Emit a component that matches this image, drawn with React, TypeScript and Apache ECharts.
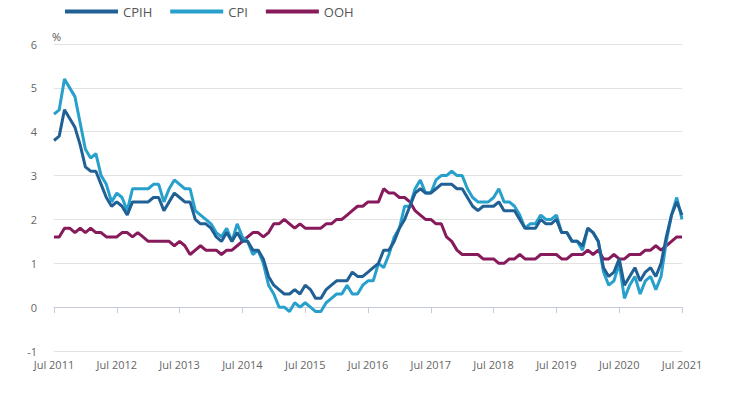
import React, { useEffect, useRef } from "react";
import * as echarts from "echarts";

const months = ["Jan", "Feb", "Mar", "Apr", "May", "Jun", "Jul", "Aug", "Sep", "Oct", "Nov", "Dec"];
const categories: string[] = [];
for (let y = 2011; y <= 2021; y++) {
  for (let m = 0; m < 12; m++) {
    if (y === 2011 && m < 6) continue;
    if (y === 2021 && m > 6) continue;
    categories.push(`${months[m]} ${y}`);
  }
}

const cpih = [
  3.8, 3.9, 4.5, 4.3, 4.1, 3.7,
  3.2, 3.1, 3.1, 2.8, 2.5, 2.3, 2.4, 2.3, 2.1, 2.4, 2.4, 2.4,
  2.4, 2.5, 2.5, 2.2, 2.4, 2.6, 2.5, 2.4, 2.4, 2.0, 1.9, 1.9,
  1.8, 1.6, 1.5, 1.7, 1.5, 1.7, 1.5, 1.5, 1.3, 1.3, 1.1, 0.7,
  0.5, 0.4, 0.3, 0.3, 0.4, 0.3, 0.5, 0.4, 0.2, 0.2, 0.4, 0.5,
  0.6, 0.6, 0.6, 0.8, 0.7, 0.7, 0.8, 0.9, 1.0, 1.3, 1.3, 1.5,
  1.8, 2.0, 2.3, 2.6, 2.7, 2.6, 2.6, 2.7, 2.8, 2.8, 2.8, 2.7,
  2.7, 2.5, 2.3, 2.2, 2.3, 2.3, 2.3, 2.4, 2.2, 2.2, 2.2, 2.0,
  1.8, 1.8, 1.8, 2.0, 1.9, 1.9, 2.0, 1.7, 1.7, 1.5, 1.5, 1.4,
  1.8, 1.7, 1.5, 0.9, 0.7, 0.8, 1.1, 0.5, 0.7, 0.9, 0.6, 0.8,
  0.9, 0.7, 1.0, 1.6, 2.1, 2.4, 2.1,
];

const cpi = [
  4.4, 4.5, 5.2, 5.0, 4.8, 4.2,
  3.6, 3.4, 3.5, 3.0, 2.8, 2.4, 2.6, 2.5, 2.2, 2.7, 2.7, 2.7,
  2.7, 2.8, 2.8, 2.4, 2.7, 2.9, 2.8, 2.7, 2.7, 2.2, 2.1, 2.0,
  1.9, 1.7, 1.6, 1.8, 1.5, 1.9, 1.6, 1.5, 1.2, 1.3, 1.0, 0.5,
  0.3, 0.0, 0.0, -0.1, 0.1, 0.0, 0.1, 0.0, -0.1, -0.1, 0.1, 0.2,
  0.3, 0.3, 0.5, 0.3, 0.3, 0.5, 0.6, 0.6, 1.0, 0.9, 1.2, 1.6,
  1.8, 2.3, 2.3, 2.7, 2.9, 2.6, 2.6, 2.9, 3.0, 3.0, 3.1, 3.0,
  3.0, 2.7, 2.5, 2.4, 2.4, 2.4, 2.5, 2.7, 2.4, 2.4, 2.3, 2.1,
  1.8, 1.9, 1.9, 2.1, 2.0, 2.0, 2.1, 1.7, 1.7, 1.5, 1.5, 1.3,
  1.8, 1.7, 1.5, 0.8, 0.5, 0.6, 1.0, 0.2, 0.5, 0.7, 0.3, 0.6,
  0.7, 0.4, 0.7, 1.5, 2.1, 2.5, 2.0,
];

const ooh = [
  1.6, 1.6, 1.8, 1.8, 1.7, 1.8,
  1.7, 1.8, 1.7, 1.7, 1.6, 1.6, 1.6, 1.7, 1.7, 1.6, 1.7, 1.6,
  1.5, 1.5, 1.5, 1.5, 1.5, 1.4, 1.5, 1.4, 1.2, 1.3, 1.4, 1.3,
  1.3, 1.3, 1.2, 1.3, 1.3, 1.4, 1.5, 1.6, 1.7, 1.7, 1.6, 1.7,
  1.9, 1.9, 2.0, 1.9, 1.8, 1.9, 1.8, 1.8, 1.8, 1.8, 1.9, 1.9,
  2.0, 2.0, 2.1, 2.2, 2.3, 2.3, 2.4, 2.4, 2.4, 2.7, 2.6, 2.6,
  2.5, 2.5, 2.4, 2.2, 2.1, 2.0, 2.0, 1.9, 1.9, 1.6, 1.5, 1.3,
  1.2, 1.2, 1.2, 1.2, 1.1, 1.1, 1.1, 1.0, 1.0, 1.1, 1.1, 1.2,
  1.1, 1.1, 1.1, 1.2, 1.2, 1.2, 1.2, 1.1, 1.1, 1.2, 1.2, 1.2,
  1.3, 1.2, 1.3, 1.1, 1.1, 1.2, 1.1, 1.1, 1.2, 1.2, 1.2, 1.3,
  1.3, 1.4, 1.3, 1.4, 1.5, 1.6, 1.6,
];

const seriesNames = ["CPIH", "CPI", "OOH"];
const seriesColors = ["#206095", "#27a0cc", "#871a5b"];

export default function App() {
  const ref = useRef<HTMLDivElement>(null);
  useEffect(() => {
    if (!ref.current) return;
    const chart = echarts.init(ref.current, undefined, { renderer: "svg" });
    const font = "'Open Sans', sans-serif";
    const data = [cpih, cpi, ooh];
    chart.setOption({
      animation: false,
      textStyle: { fontFamily: font },
      legend: {
        left: 60,
        top: 0,
        itemWidth: 53,
        itemHeight: 4,
        itemGap: 18,
        icon: "rect",
        textStyle: { fontFamily: font, fontSize: 13, color: "#555" },
        data: seriesNames,
      },
      grid: { left: 54, right: 52, top: 44, bottom: 43, containLabel: false },
      xAxis: {
        type: "category",
        data: categories,
        boundaryGap: false,
        axisLine: { lineStyle: { color: "#c6cbe0" } },
        axisTick: {
          alignWithLabel: true,
          interval: (i: number) => i % 12 === 0,
          length: 6,
          lineStyle: { color: "#c6cbe0" },
        },
        axisLabel: {
          interval: (i: number) => i % 12 === 0,
          color: "#666",
          fontSize: 11,
          fontFamily: font,
          margin: 8,
        },
        splitLine: { show: false },
      },
      yAxis: {
        type: "value",
        min: -1,
        max: 6,
        interval: 1,
        name: "%",
        nameLocation: "end",
        nameGap: 2,
        nameTextStyle: { align: "left", color: "#555", fontSize: 11, fontFamily: font, padding: [0, 0, 0, -2] },
        axisLine: { show: false },
        axisTick: { show: false },
        axisLabel: { color: "#666", fontSize: 11, fontFamily: font, margin: 17 },
        splitLine: { lineStyle: { color: "#e2e2e2", width: 1 } },
      },
      series: seriesNames.map((name, i) => ({
        name,
        type: "line",
        data: data[i],
        showSymbol: false,
        symbol: "none",
        color: seriesColors[i],
        lineStyle: { width: 3, color: seriesColors[i] },
        z: i === 2 ? 1 : 3 - i,
      })),
    });
    return () => chart.dispose();
  }, []);
  return <div ref={ref} style={{ width: 734, height: 394, position: "absolute", left: 0, top: 0 }} />;
}
